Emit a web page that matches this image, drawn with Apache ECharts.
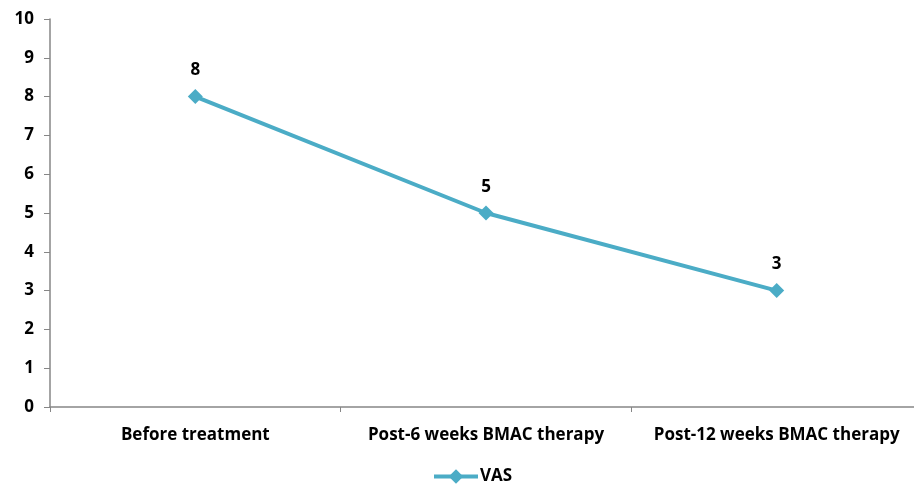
<!DOCTYPE html>
<html>
<head>
<meta charset="utf-8">
<script src="https://cdn.jsdelivr.net/npm/echarts@6/dist/echarts.min.js"></script>
<style>
  html, body { margin: 0; padding: 0; background: #ffffff; }
  #chart { width: 914px; height: 485px; }
</style>
</head>
<body>
<div id="chart"></div>
<script>
// VAS pain score over the course of BMAC therapy
const categories = ['Before treatment', 'Post-6 weeks BMAC therapy', 'Post-12 weeks BMAC therapy'];
const vasValues = [8, 5, 3];
const seriesName = 'VAS';

const axisGray = '#868686';
const lineColor = '#4BACC6';
const fontFamily = '"Open Sans", "Liberation Sans", sans-serif';

const chart = echarts.init(document.getElementById('chart'));
chart.setOption({
  animation: false,
  backgroundColor: '#ffffff',
  grid: { left: 50, top: 19, width: 872, height: 388, containLabel: false, outerBoundsMode: 'none' },
  legend: {
    top: 468,
    left: 432,
    padding: 0,
    data: [{ name: seriesName }],
    itemWidth: 44,
    itemHeight: 18,
    itemGap: 4,
    lineStyle: { width: 4 },
    textStyle: { fontFamily, fontWeight: 'bold', fontSize: 17, color: '#000', padding: [0, 0, 0, -3] }
  },
  xAxis: {
    type: 'category',
    data: categories,
    boundaryGap: true,
    axisLine: { lineStyle: { color: axisGray, width: 1.5 } },
    axisTick: { show: true, length: 5, lineStyle: { color: axisGray } },
    axisLabel: { color: '#000', fontFamily, fontWeight: 'bold', fontSize: 17, margin: 20, interval: 0, hideOverlap: false }
  },
  yAxis: {
    type: 'value',
    min: 0,
    max: 10,
    interval: 1,
    axisLine: { show: true, lineStyle: { color: axisGray, width: 1.5 } },
    axisTick: { show: true, length: 6, lineStyle: { color: axisGray } },
    splitLine: { show: false },
    axisLabel: { color: '#000', fontFamily, fontWeight: 'bold', fontSize: 17, margin: 16 }
  },
  series: [{
    name: seriesName,
    type: 'line',
    data: vasValues,
    symbol: 'diamond',
    symbolSize: 15,
    lineStyle: { color: lineColor, width: 4 },
    itemStyle: { color: lineColor },
    label: {
      show: true,
      position: 'top',
      distance: 10,
      color: '#000',
      fontFamily,
      fontWeight: 'bold',
      fontSize: 17
    }
  }]
});
</script>
</body>
</html>
